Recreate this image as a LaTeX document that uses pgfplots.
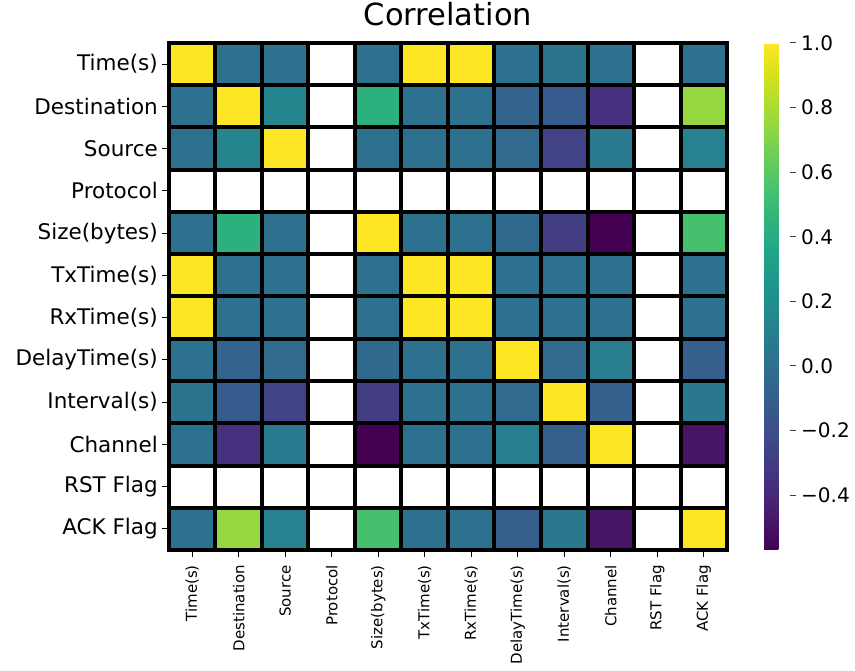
\documentclass[border=0pt]{standalone}
\usepackage{fontspec}
\setmainfont{DejaVu Sans}
\usepackage{pgfplots}
\pgfplotsset{compat=1.18}
\usepackage{pgfplotstable}
\usepgfplotslibrary{colormaps}

% c = column index, r = row index (0 = Time(s) at top), v = correlation
% Protocol (3) and RST Flag (10) are undefined (NaN) and left blank
\pgfplotstableread{
c r v
0 0 1
1 0 0.02
2 0 0.01
4 0 0.01
5 0 1
6 0 1
7 0 0.02
8 0 0.03
9 0 0.02
11 0 0.01
0 1 0.02
1 1 1
2 1 0.14
4 1 0.43
5 1 0.01
6 1 0.01
7 1 -0.07
8 1 -0.13
9 1 -0.35
11 1 0.75
0 2 0.01
1 2 0.14
2 2 1
4 2 0.01
5 2 0.01
6 2 0.01
7 2 -0.03
8 2 -0.26
9 2 0.07
11 2 0.12
0 4 0.01
1 4 0.43
2 4 0.01
4 4 1
5 4 0.01
6 4 0.01
7 4 -0.04
8 4 -0.29
9 4 -0.57
11 4 0.54
0 5 1
1 5 0.01
2 5 0.01
4 5 0.01
5 5 1
6 5 1
7 5 0.01
8 5 0.02
9 5 0.02
11 5 0.01
0 6 1
1 6 0.01
2 6 0.01
4 6 0.01
5 6 1
6 6 1
7 6 0.01
8 6 0.02
9 6 0.02
11 6 0.01
0 7 0.02
1 7 -0.07
2 7 -0.03
4 7 -0.04
5 7 0.01
6 7 0.01
7 7 1
8 7 -0.03
9 7 0.09
11 7 -0.10
0 8 0.03
1 8 -0.13
2 8 -0.26
4 8 -0.29
5 8 0.02
6 8 0.02
7 8 -0.03
8 8 1
9 8 -0.10
11 8 0.06
0 9 0.02
1 9 -0.35
2 9 0.07
4 9 -0.57
5 9 0.02
6 9 0.02
7 9 0.09
8 9 -0.10
9 9 1
11 9 -0.49
0 11 0.01
1 11 0.75
2 11 0.12
4 11 0.54
5 11 0.01
6 11 0.01
7 11 -0.10
8 11 0.06
9 11 -0.49
11 11 1
}\corrdata

\begin{document}
\begin{tikzpicture}
\path[use as bounding box] (-169pt,-628pt) rectangle (686pt,43pt);
\begin{axis}[
  at={(0pt,0pt)}, anchor=north west,
  scale only axis, width=558pt, height=507pt,
  xmin=-0.5, xmax=11.5, ymin=-0.5, ymax=11.5,
  xtick={0,...,11}, ytick={0,...,11},
  xticklabels={Time(s),Destination,Source,Protocol,Size(bytes),TxTime(s),RxTime(s),DelayTime(s),Interval(s),Channel,RST Flag,ACK Flag},
  yticklabels={ACK Flag,RST Flag,Channel,Interval(s),DelayTime(s),RxTime(s),TxTime(s),Size(bytes),Protocol,Source,Destination,Time(s)},
  minor xtick={0.5,1.5,...,10.5},
  minor ytick={0.5,1.5,...,10.5},
  grid=minor,
  minor grid style={black, line width=4pt},
  minor tick length=0pt,
  major tick length=7pt,
  tick align=outside,
  tick pos=left,
  tick style={black, line width=1pt},
  axis line style={black, line width=4pt},
  axis on top,
  x tick label style={rotate=90, anchor=east, inner sep=8pt, font=\fontsize{15}{18}\selectfont},
  y tick label style={inner sep=4pt, font=\fontsize{21.5}{25}\selectfont},
  title=Correlation,
  title style={font=\fontsize{30.5}{36}\selectfont, at={(0.5,1)}, anchor=base, yshift=11pt},
  colormap/viridis,
  point meta min=-0.57, point meta max=1,
  colorbar,
  colorbar style={
    at={(parent axis.north east)}, anchor=north west, xshift=28.5pt,
    scale only axis, width=26pt,
    axis line style={draw=none},
    ytick={-0.4,-0.2,0,0.2,0.4,0.6,0.8,1},
    yticklabels={−0.4,−0.2,0.0,0.2,0.4,0.6,0.8,1.0},
    ytick pos=right, yticklabel pos=right,
    tick align=outside,
    major tick length=6pt,
    tick style={black!75, line width=1pt},
    yticklabel style={inner sep=5pt, font=\fontsize{20}{24}\selectfont},
  },
]
\addplot[scatter, only marks, scatter src=explicit, mark=square*, mark size=21.125pt,
  scatter/use mapped color={draw=black, fill=mapped color},
  mark options={xscale=1.1006, line width=4pt}]
  table[x=c, y expr=11-\thisrow{r}, meta=v] {\corrdata};
\end{axis}
\end{tikzpicture}
\end{document}
